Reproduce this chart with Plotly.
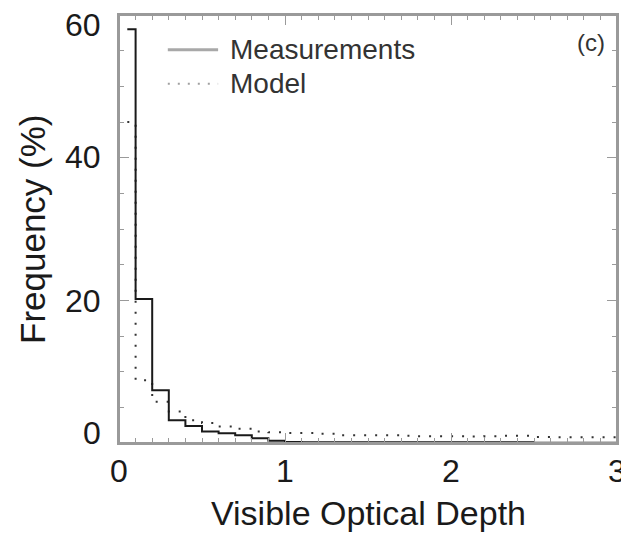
import plotly.graph_objects as go

# bin centres of optical depth histogram (bin width 0.1)
bin_centers = [0.05, 0.15, 0.25, 0.35, 0.45, 0.55, 0.65, 0.75, 0.85, 0.95,
               1.05, 1.15, 1.25, 1.35, 1.45, 1.55, 1.65, 1.75, 1.85, 1.95,
               2.05, 2.15, 2.25, 2.35, 2.45, 2.55, 2.65, 2.75, 2.85, 2.95, 3.05]

measurements = [58.0, 20.2, 7.4, 3.2, 2.4, 1.6, 1.35, 1.1, 0.65, 0.3,
                0.15, 0.1, 0.1, 0.1, 0.1, 0.1, 0.1, 0.1, 0.1, 0.1,
                0.1, 0.1, 0.1, 0.1, 0.1, 0.05, 0.05, 0.05, 0.05, 0.05, 0.05]

model = [45.0, 8.8, 5.8, 4.4, 3.2, 2.8, 2.3, 2.0, 1.6, 1.5,
         1.4, 1.4, 1.3, 1.1, 1.1, 1.1, 1.1, 1.0, 0.95, 0.95,
         0.95, 0.9, 0.95, 1.0, 1.0, 0.85, 0.8, 0.8, 0.8, 0.8, 0.8]

x_ticks = [0, 1, 2, 3]
y_ticks = [0, 20, 40, 60]

FONT = "Liberation Sans, Arial, sans-serif"
AX = "#9a9a9a"
TXT = "#1a1a1a"

fig = go.Figure()
fig.add_trace(go.Scatter(x=bin_centers, y=model, mode="lines", line_shape="hvh",
                         line=dict(color="#333333", width=2, dash="2px,9px"),
                         name="Model", showlegend=False))
fig.add_trace(go.Scatter(x=bin_centers, y=measurements, mode="lines", line_shape="hvh",
                         line=dict(color="#1a1a1a", width=2),
                         name="Measurements", showlegend=False))

# frame
fig.add_shape(type="rect", xref="paper", yref="paper", x0=0, x1=1, y0=0, y1=1,
              line=dict(color=AX, width=2), layer="above")

# legend drawn manually
fig.add_shape(type="line", xref="paper", yref="paper", x0=0.098, x1=0.199, y0=0.9186, y1=0.9186,
              line=dict(color="#a8a8a8", width=3))
fig.add_shape(type="line", xref="paper", yref="paper", x0=0.098, x1=0.199, y0=0.8395, y1=0.8395,
              line=dict(color="#a0a0a0", width=2, dash="2px,8px"))
fig.add_annotation(xref="paper", yref="paper", x=0.2189, y=0.9186, text="Measurements",
                   showarrow=False, xanchor="left", yanchor="middle",
                   font=dict(family=FONT, size=28, color="#333333"))
fig.add_annotation(xref="paper", yref="paper", x=0.2189, y=0.8395, text="Model",
                   showarrow=False, xanchor="left", yanchor="middle",
                   font=dict(family=FONT, size=28, color="#333333"))
fig.add_annotation(xref="paper", yref="paper", x=0.98, y=0.935, text="(c)",
                   showarrow=False, xanchor="right", yanchor="middle",
                   font=dict(family=FONT, size=24, color="#333333"))

# tick labels as annotations (positioned like the reference)
for v in x_ticks:
    fig.add_annotation(xref="x", yref="paper", x=v, y=0, text=str(v), showarrow=False,
                       xanchor="center", yanchor="top", yshift=-8,
                       font=dict(family=FONT, size=32, color=TXT))
y_shift = {0: 10, 20: -1, 40: 1, 60: -10}
for v in y_ticks:
    fig.add_annotation(xref="paper", yref="y", x=0, y=v, text=str(v), showarrow=False,
                       xanchor="right", yanchor="middle", xshift=-16, yshift=y_shift[v],
                       font=dict(family=FONT, size=32, color=TXT))

# axis titles
fig.add_annotation(xref="paper", yref="paper", x=0.5, y=0, text="Visible Optical Depth",
                   showarrow=False, xanchor="center", yanchor="top", yshift=-49,
                   font=dict(family=FONT, size=34, color=TXT))
fig.add_annotation(xref="paper", yref="paper", x=-0.1747, y=0.5, text="Frequency (%)",
                   showarrow=False, xanchor="center", yanchor="middle", textangle=-90,
                   font=dict(family=FONT, size=35, color=TXT))

fig.update_xaxes(range=[0, 3], tickvals=x_ticks, showticklabels=False,
                 showgrid=False, zeroline=False, showline=True, linecolor=AX, linewidth=2,
                 mirror="allticks", ticks="inside", ticklen=10, tickcolor=AX, tickwidth=1,
                 minor=dict(dtick=0.1, ticks="inside", ticklen=5, tickcolor=AX, tickwidth=1))
fig.update_yaxes(range=[0, 60], tickvals=y_ticks, showticklabels=False,
                 showgrid=False, zeroline=False, showline=True, linecolor=AX, linewidth=2,
                 mirror="allticks", ticks="inside", ticklen=10, tickcolor=AX, tickwidth=1,
                 minor=dict(dtick=5, ticks="inside", ticklen=5, tickcolor=AX, tickwidth=1))

# the page body has an 8px margin, so the figure is sized/offset to compensate
fig.update_layout(width=621, height=530, margin=dict(l=111, r=12, t=5, b=95),
                  plot_bgcolor="white", paper_bgcolor="white", showlegend=False)

fig.write_html("out.html")
